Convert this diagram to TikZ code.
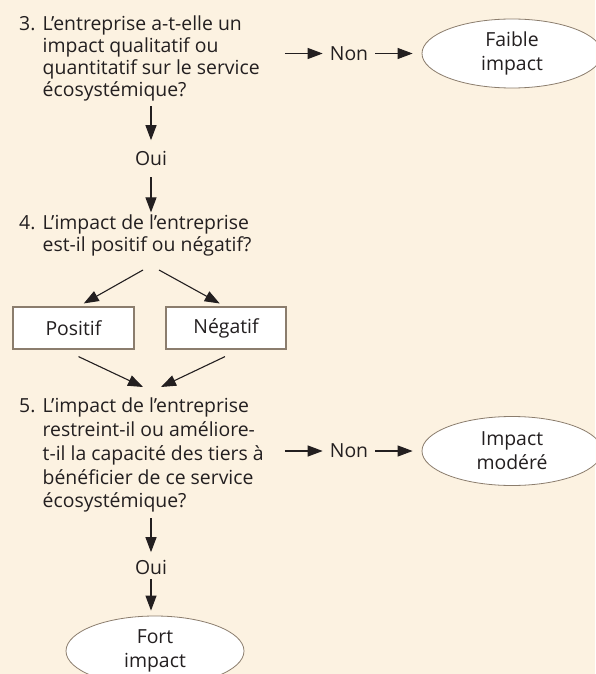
\documentclass[tikz,border=0pt]{standalone}
\usepackage{fontspec}
\setmainfont{Open Sans}
\usetikzlibrary{arrows.meta,shapes,positioning}

\definecolor{bgcream}{RGB}{252,242,225}
\definecolor{edgebrown}{RGB}{139,125,109}
\definecolor{inkdark}{RGB}{35,31,32}

\newcommand{\qnum}[1]{\makebox[23.5pt][l]{#1}}

\tikzset{
  question/.style={anchor=base west, inner sep=0pt},
  answer/.style={inner xsep=7pt, inner ysep=11pt},
  choice/.style={draw=edgebrown, line width=1.2pt, fill=white, minimum width=121pt, minimum height=42pt},
  outcome/.style={ellipse, draw=edgebrown, line width=0.8pt, fill=white, minimum width=180pt, minimum height=69pt, inner sep=0pt, align=center, font=\fontsize{19.4}{24}\selectfont},
  arr/.style={-{Triangle[length=15pt,width=11pt]}, line width=1.1pt, draw=inkdark}
}

\begin{document}
\begin{tikzpicture}[x=1pt, y=-1pt, every node/.style={text=inkdark, font=\fontsize{19.4}{22}\selectfont}]

\useasboundingbox (0,0) rectangle (595,674);
\fill[bgcream] (0,0) rectangle (595,674);

% question 3
\node[question] (q3) at (19,30.5) {\qnum{3.}\begin{tabular}[t]{@{}l@{}}L’entreprise a-t-elle un\\impact qualitatif ou\\quantitatif sur le service\\écosystémique?\end{tabular}};
\node[answer] (oui1) at (151,158.6) {Oui};
\node[answer] (non1) at (349,53.5) {Non};
\node[outcome] (faible) at (512,53.5) {Faible\\impact};

\draw[arr, shorten <=3pt] (q3.south -| oui1) -- (oui1);
\draw[arr] ([xshift=25pt]q3.east |- non1) -- (non1);
\draw[arr, shorten >=9pt] (non1) -- (faible);

% question 4
\node[question] (q4) at (19,229) {\qnum{4.}\begin{tabular}[t]{@{}l@{}}L’impact de l’entreprise\\est-il positif ou négatif?\end{tabular}};
\draw[arr, shorten >=1pt] (oui1) -- (q4.north -| oui1);

\coordinate (fork) at (151,270);
\node[choice] (pos) at (73.5,328) {Positif};
\node[choice, minimum width=120pt] (neg) at (226,328) {Négatif};
\draw[arr, shorten >=6pt] ([xshift=-8pt]fork) -- ([xshift=5pt]pos.north);
\draw[arr, shorten >=6pt] ([xshift=8pt]fork) -- ([xshift=-1pt]neg.north);

\coordinate (merge) at (152,387);
\draw[arr] ([xshift=5pt,yshift=-7pt]pos.south) -- ([xshift=-9pt]merge);
\draw[arr] ([xshift=-1pt,yshift=-7pt]neg.south) -- ([xshift=9pt]merge);

% question 5
\node[question, font=\fontsize{19.4}{23.8}\selectfont] (q5) at (19,412.7) {\qnum{5.}\begin{tabular}[t]{@{}l@{}}L’impact de l’entreprise\\restreint-il ou améliore-\\t-il la capacité des tiers à\\bénéficier de ce service\\écosystémique?\end{tabular}};
\node[answer] (non2) at (349,451) {Non};
\node[outcome] (modere) at (512,451) {Impact\\modéré};
\draw[arr] ([xshift=21pt]q5.east |- non2) -- (non2);
\draw[arr, shorten >=9pt] (non2) -- (modere);

\node[answer, inner ysep=4pt] (oui2) at (151,567.6) {Oui};
\node[outcome, minimum width=178pt, minimum height=70pt] (fort) at (155,651) {Fort\\impact};
\draw[arr, shorten <=3pt, shorten >=4pt] (q5.south -| oui2) -- (oui2);
\draw[arr, shorten >=5pt] (oui2) -- (oui2 |- fort.north);

\end{tikzpicture}
\end{document}
